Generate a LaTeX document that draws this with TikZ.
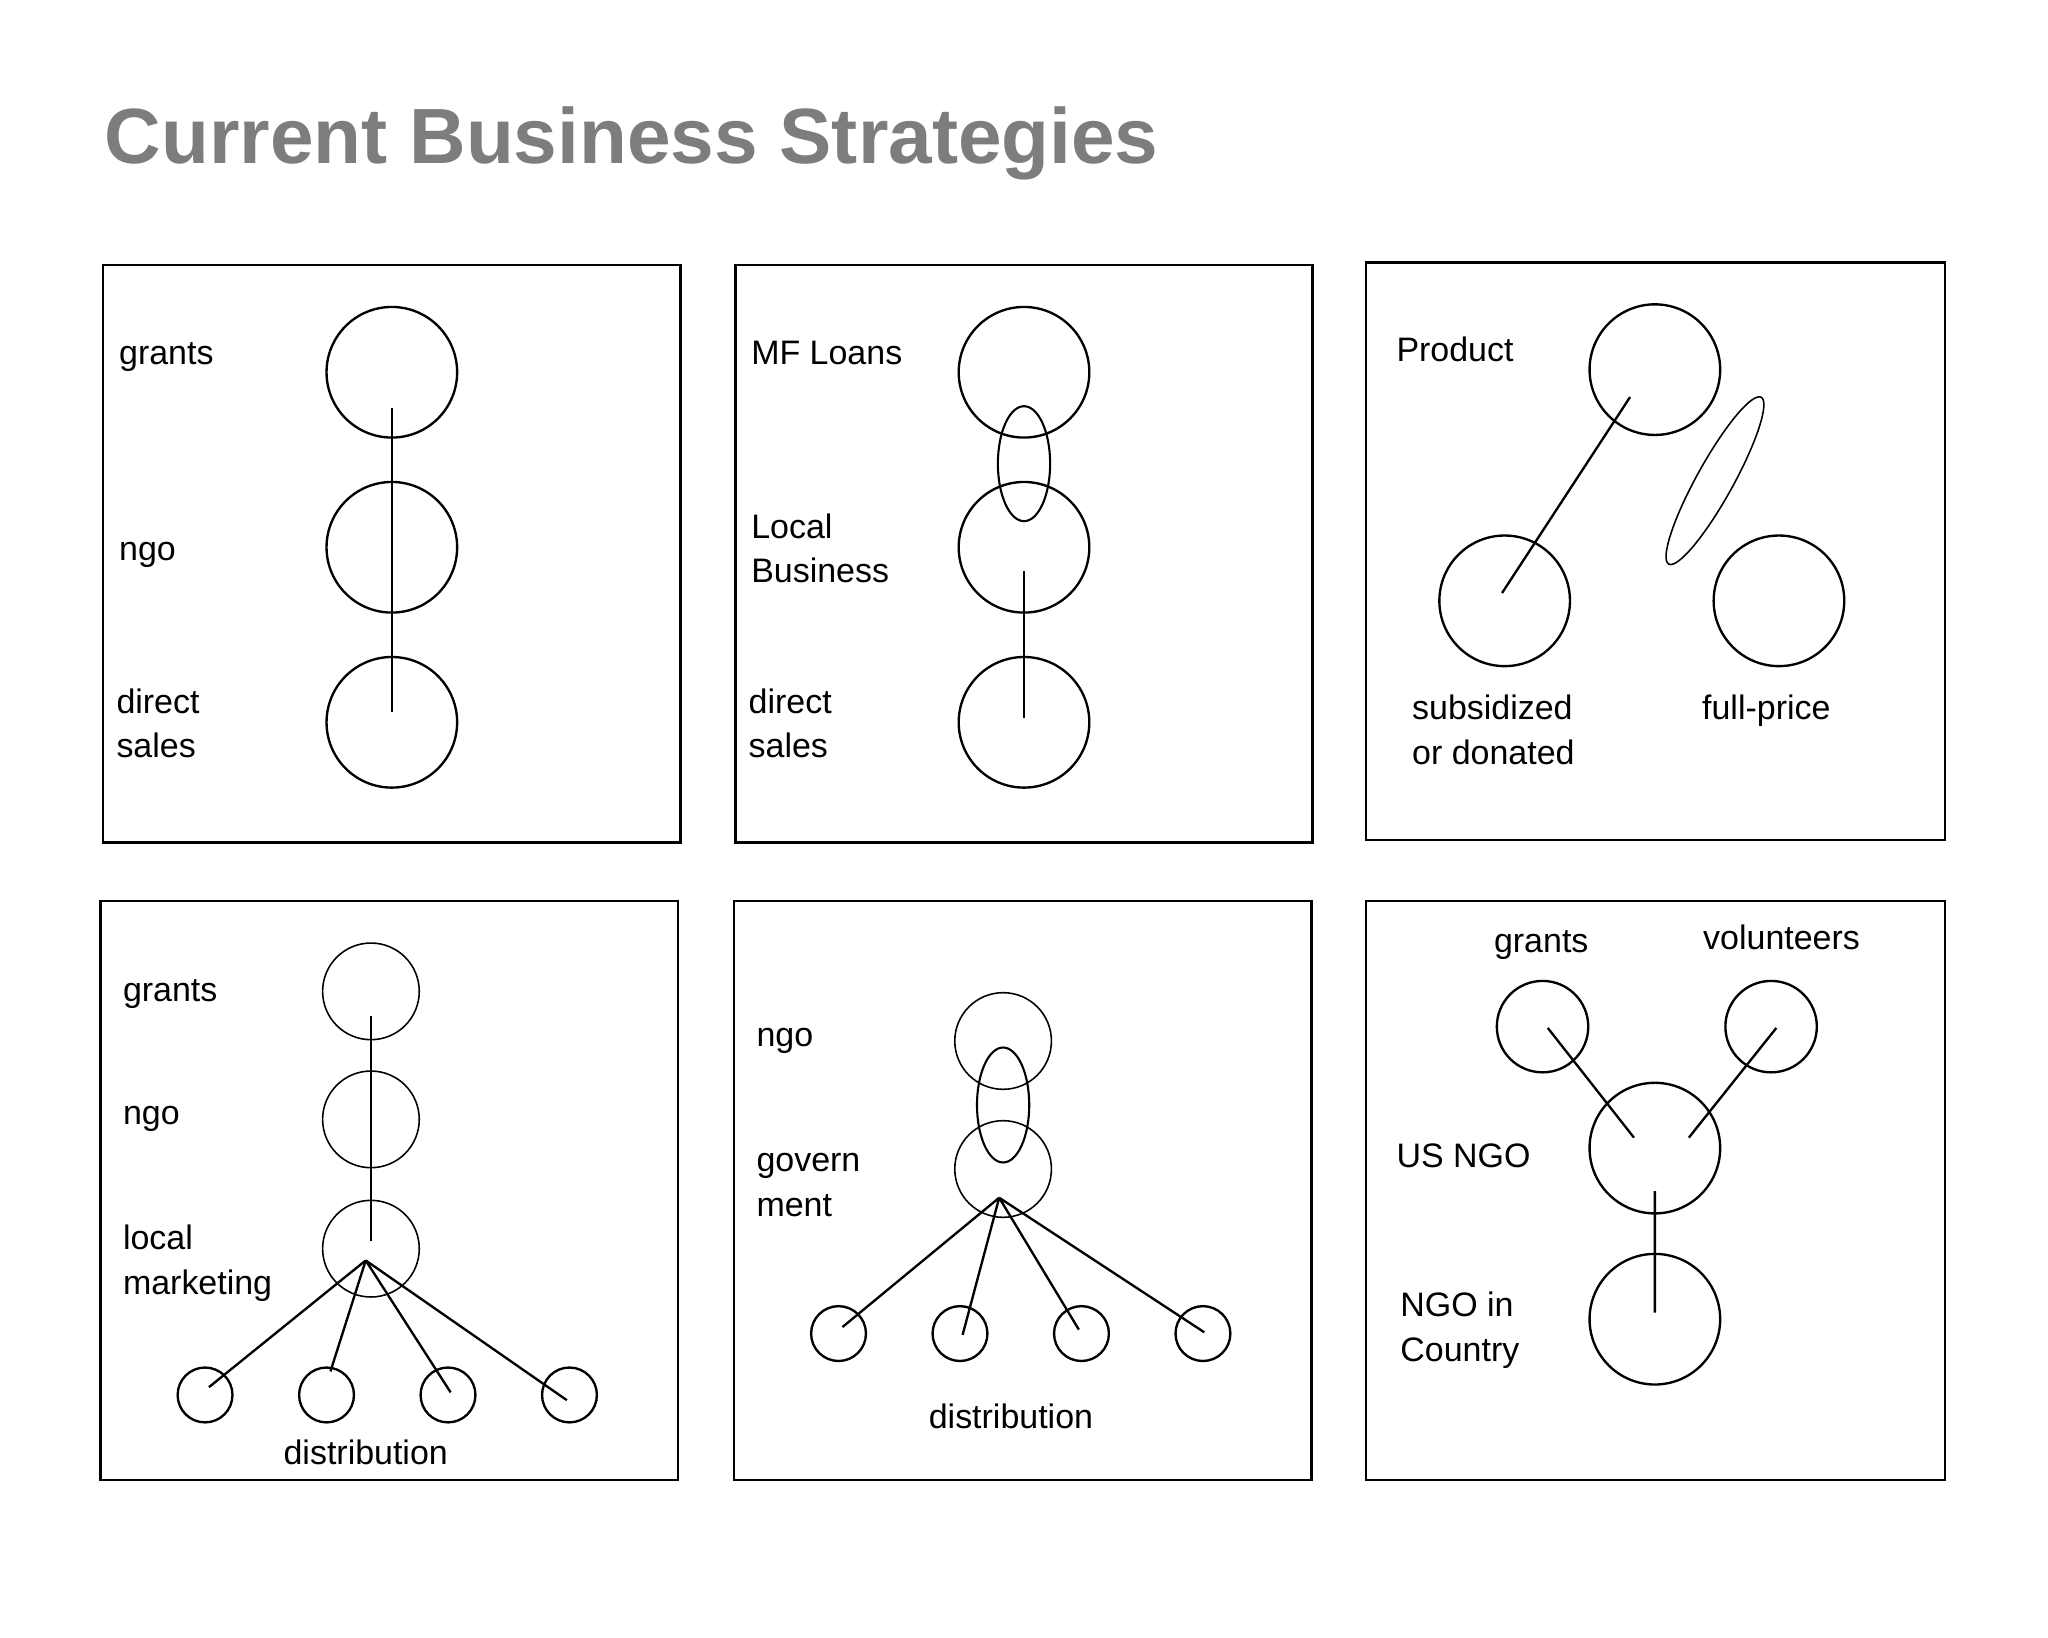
\documentclass[tikz,border=0pt]{standalone}
\usepackage{fontspec}
\setmainfont{Liberation Sans}
\definecolor{titlegray}{RGB}{125,125,125}
\begin{document}
\begin{tikzpicture}[x=1pt,y=-1pt,
  panel/.style={draw,line width=1.8pt},
  circ/.style={draw,line width=1.8pt},
  thin/.style={draw,line width=1.2pt},
  lnk/.style={line width=1.8pt},
  lbl/.style={anchor=base west,font=\fontsize{26}{34}\selectfont,inner sep=0pt},
  clbl/.style={anchor=base,font=\fontsize{26}{34}\selectfont,inner sep=0pt}]
\useasboundingbox (0,0) rectangle (1568,1254);
\node[anchor=base west,inner sep=0pt,text=titlegray,font=\fontsize{60}{70}\selectfont\bfseries] (title) at (80,125) {Current Business Strategies};
% Panel 1
\draw[panel] (79,203) rectangle (521,645);
\draw[circ] (300,285) circle (50) (300,419) circle (50) (300,553) circle (50);
\coordinate (a1) at (300,312); \coordinate (a2) at (300,545);
\draw[lnk] (a1) -- (a2);
\node[lbl] (l11) at (91,279) {grants};
\node[lbl] (l12) at (91,429) {ngo};
\node[lbl] (l13) at (89,546) {direct};
\node[lbl] (l14) at (89,580) {sales};
% Panel 2
\draw[panel] (563,203) rectangle (1005,645);
\draw[circ] (784,285) circle (50) (784,419) circle (50) (784,553) circle (50);
\draw[line width=1.6pt] (784,355) ellipse [x radius=20,y radius=44];
\coordinate (b1) at (784,437); \coordinate (b2) at (784,550);
\draw[lnk] (b1) -- (b2);
\node[lbl] (l21) at (575,279) {MF Loans};
\node[lbl] (l22) at (575,412) {Local};
\node[lbl] (l23) at (575,446) {Business};
\node[lbl] (l24) at (573,546) {direct};
\node[lbl] (l25) at (573,580) {sales};
% Panel 3
\draw[panel] (1046,201) rectangle (1489,643);
\draw[circ] (1267,283) circle (50) (1152,460) circle (50) (1362,460) circle (50);
\coordinate (c1) at (1248,304); \coordinate (c2) at (1150,454);
\draw[lnk] (c1) -- (c2);
\draw[thin,shift={(1313,368)},rotate=61] (0,0) ellipse [x radius=73,y radius=14];
\node[lbl] (l31) at (1069,277) {Product};
\node[lbl] (l32) at (1081,551) {subsidized};
\node[lbl] (l33) at (1081,585) {or donated};
\node[lbl] (l34) at (1303,551) {full-price};
% Panel 4
\draw[panel] (77,690) rectangle (519,1133);
\draw[thin] (284,759) circle (37) (284,857) circle (37) (284,956) circle (37);
\draw[circ] (157,1068) circle (21) (250,1068) circle (21) (343,1068) circle (21) (436,1068) circle (21);
\coordinate (d0) at (284,778); \coordinate (d1) at (284,950);
\draw[lnk] (d0) -- (d1);
\coordinate (h4) at (280,965);
\draw[lnk] (h4) -- (160,1062) (h4) -- (253,1050) (h4) -- (345,1066) (h4) -- (434,1072);
\node[lbl] (l41) at (94,767) {grants};
\node[lbl] (l42) at (94,861) {ngo};
\node[lbl] (l43) at (94,957) {local};
\node[lbl] (l44) at (94,991) {marketing};
\node[clbl] (l45) at (280,1121) {distribution};
% Panel 5
\draw[panel] (562,690) rectangle (1004,1133);
\draw[thin] (768,797) circle (37) (768,895) circle (37);
\draw[line width=1.6pt] (768,846) ellipse [x radius=20,y radius=44];
\draw[circ] (642,1021) circle (21) (735,1021) circle (21) (828,1021) circle (21) (921,1021) circle (21);
\coordinate (h5) at (765,917);
\draw[lnk] (h5) -- (645,1016) (h5) -- (737,1022) (h5) -- (826,1018) (h5) -- (922,1020);
\node[lbl] (l51) at (579,801) {ngo};
\node[lbl] (l52) at (579,897) {govern};
\node[lbl] (l53) at (579,931) {ment};
\node[clbl] (l54) at (774,1094) {distribution};
% Panel 6
\draw[panel] (1046,690) rectangle (1489,1133);
\draw[circ] (1181,786) circle (35) (1356,786) circle (35) (1267,879) circle (50) (1267,1010) circle (50);
\draw[lnk] (1185,787) -- (1251,871) (1360,787) -- (1293,871) (1267,912) -- (1267,1005);
\node[clbl] (l61) at (1180,729) {grants};
\node[clbl] (l62) at (1364,727) {volunteers};
\node[lbl] (l63) at (1069,894) {US NGO};
\node[lbl] (l64) at (1072,1008) {NGO in};
\node[lbl] (l65) at (1072,1042) {Country};
\end{tikzpicture}
\end{document}
